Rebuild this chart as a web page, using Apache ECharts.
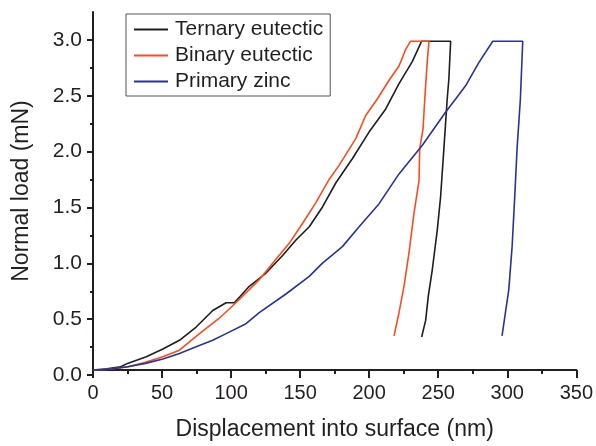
<!DOCTYPE html>
<html>
<head>
<meta charset="utf-8">
<script src="https://cdn.jsdelivr.net/npm/echarts@6/dist/echarts.min.js"></script>
<style>
html,body{margin:0;padding:0;background:#fff;}
#chart{width:596px;height:446px;}
</style>
</head>
<body>
<div id="chart"></div>
<script>
// Data
var seriesNames = ['Ternary eutectic', 'Binary eutectic', 'Primary zinc'];

var ternaryX = [0, 10, 20, 25, 38.6, 50.6, 62.6, 74.7, 86.7, 96.4, 102.4, 113.2, 125.3, 137.3, 147, 156.6, 166.2, 175.9, 187.9, 199.9, 212, 221.6, 231.2, 238, 259, 257.7, 256.5, 254.1, 251.7, 249.3, 245.7, 242.8, 240.9, 238];
var ternaryY = [0, 0.01, 0.03, 0.06, 0.12, 0.19, 0.27, 0.39, 0.54, 0.61, 0.61, 0.76, 0.88, 1.04, 1.18, 1.30, 1.48, 1.70, 1.92, 2.16, 2.37, 2.60, 2.80, 2.985, 2.985, 2.64, 2.46, 2.01, 1.57, 1.27, 0.91, 0.67, 0.45, 0.30];

var binaryX = [0, 10, 25.3, 38, 50.6, 62.6, 77.1, 91.5, 106, 120.4, 130.1, 142.1, 151.7, 161.4, 171, 178.3, 190.3, 197.5, 205.9, 214.4, 221.6, 226.4, 230, 243.3, 242, 240.4, 239, 236.6, 236.1, 232.4, 228.8, 225.2, 221.6, 218];
var binaryY = [0, 0.005, 0.03, 0.07, 0.12, 0.18, 0.33, 0.47, 0.64, 0.82, 0.97, 1.15, 1.33, 1.52, 1.73, 1.86, 2.10, 2.31, 2.46, 2.63, 2.76, 2.91, 2.985, 2.985, 2.79, 2.49, 2.19, 2.01, 1.72, 1.42, 1.06, 0.76, 0.52, 0.31];

var zincX = [0, 10, 25.3, 38, 50.6, 62.6, 74.7, 86.7, 96.4, 110.8, 120.4, 139.7, 156.6, 166.2, 180.6, 192.7, 207.2, 221.6, 238.5, 255.3, 262.6, 269.8, 279.4, 289.5, 311.2, 309.5, 307.1, 305.4, 303.5, 301.1, 296.2];
var zincY = [0, 0.005, 0.03, 0.06, 0.10, 0.15, 0.21, 0.27, 0.33, 0.42, 0.52, 0.69, 0.85, 0.97, 1.12, 1.30, 1.51, 1.78, 2.04, 2.34, 2.46, 2.58, 2.79, 2.985, 2.985, 2.46, 2.01, 1.57, 1.12, 0.73, 0.31];

var xTicks = [0, 350, 50];   // min, max, interval
var yTicks = [0, 3.0, 0.5];
var yAxisTop = 3.25;

function pairs(xs, ys) {
  var out = [];
  for (var i = 0; i < xs.length; i++) out.push([xs[i], ys[i]]);
  return out;
}

var ink = '#231f20';
var font = 'Liberation Sans, Arial, Helvetica, sans-serif';
var colors = ['#1e1e1e', '#ff4a1c', '#27339a'];

var chart = echarts.init(document.getElementById('chart'), null, {renderer: 'canvas'});
var option = {
  animation: false,
  backgroundColor: '#ffffff',
  textStyle: {fontFamily: font, color: ink},
  grid: [
    {left: 93, right: 18, top: 12, bottom: 71, containLabel: false},
    {left: 93, right: 18, top: 40, bottom: 71, containLabel: false}
  ],
  legend: {
    show: true,
    orient: 'vertical',
    left: 126,
    top: 14,
    data: seriesNames,
    icon: 'rect',
    itemWidth: 34,
    itemHeight: 2,
    itemGap: 5,
    padding: [5, 7, 4, 8],
    borderColor: '#555555',
    borderWidth: 1,
    selectedMode: false,
    textStyle: {fontFamily: font, fontSize: 21, color: ink, lineHeight: 21, padding: [0, 0, 0, 2]}
  },
  xAxis: [
    {
      type: 'value', gridIndex: 0,
      min: xTicks[0], max: xTicks[1], interval: xTicks[2],
      name: 'Displacement into surface (nm)',
      nameLocation: 'middle', nameGap: 48,
      nameTextStyle: {fontFamily: font, fontSize: 23, color: ink},
      axisLine: {show: true, onZero: false, lineStyle: {color: ink, width: 2}},
      axisTick: {show: true, inside: false, length: 8, lineStyle: {color: ink, width: 2}},
      minorTick: {show: true, splitNumber: 2, length: 4, lineStyle: {color: ink, width: 2}},
      axisLabel: {fontFamily: font, fontSize: 20, color: ink, margin: 13},
      splitLine: {show: false}
    },
    {
      type: 'value', gridIndex: 1, show: false,
      min: xTicks[0], max: xTicks[1]
    }
  ],
  yAxis: [
    {
      type: 'value', gridIndex: 0,
      min: 0, max: yAxisTop,
      name: 'Normal load (mN)',
      nameLocation: 'middle', nameGap: 60, nameRotate: 90,
      nameTextStyle: {fontFamily: font, fontSize: 23, color: ink},
      axisLine: {show: true, onZero: false, lineStyle: {color: ink, width: 2}},
      axisTick: {show: false},
      axisLabel: {show: false},
      splitLine: {show: false}
    },
    {
      type: 'value', gridIndex: 1,
      min: yTicks[0], max: yTicks[1], interval: yTicks[2],
      axisLine: {show: false},
      axisTick: {show: true, inside: false, length: 6, lineStyle: {color: ink, width: 2}},
      minorTick: {show: true, splitNumber: 2, length: 3, lineStyle: {color: ink, width: 2}},
      axisLabel: {fontFamily: font, fontSize: 21, color: ink, margin: 11,
        formatter: function (v) { return v.toFixed(1); }},
      splitLine: {show: false}
    }
  ],
  series: [
    {name: seriesNames[0], type: 'line', xAxisIndex: 0, yAxisIndex: 0, data: pairs(ternaryX, ternaryY),
     symbol: 'none', color: colors[0], lineStyle: {color: colors[0], width: 1.6}},
    {name: seriesNames[1], type: 'line', xAxisIndex: 0, yAxisIndex: 0, data: pairs(binaryX, binaryY),
     symbol: 'none', color: colors[1], lineStyle: {color: colors[1], width: 1.6}},
    {name: seriesNames[2], type: 'line', xAxisIndex: 0, yAxisIndex: 0, data: pairs(zincX, zincY),
     symbol: 'none', color: colors[2], lineStyle: {color: colors[2], width: 1.6}}
  ]
};
chart.setOption(option);
</script>
</body>
</html>
